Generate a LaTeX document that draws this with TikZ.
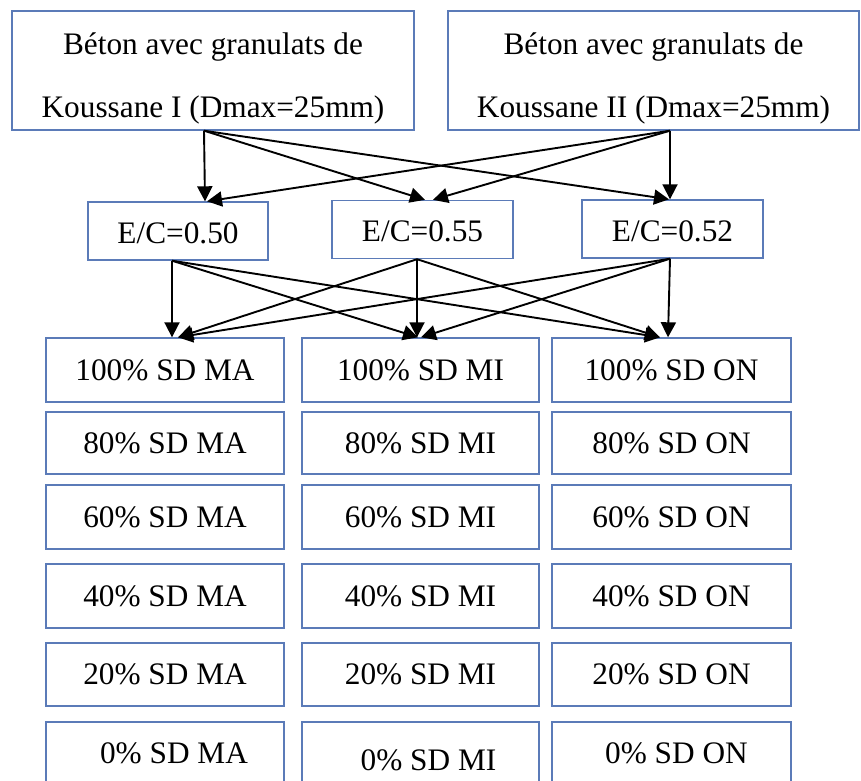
\documentclass[tikz,border=0pt]{standalone}
\usepackage{fontspec}
\setmainfont{Liberation Serif}
\usetikzlibrary{arrows.meta}
\definecolor{boxblue}{HTML}{5B7BB8}
\begin{document}
\begin{tikzpicture}[x=1pt,y=-1pt,
  font=\fontsize{31.3}{63}\selectfont,
  box/.style={draw=boxblue, line width=1.4pt, rectangle, inner sep=0pt, fill=white, text=black},
  topbox/.style={box, align=center, minimum height=119pt},
  midbox/.style={box, minimum width=181pt, minimum height=58pt, text height=30pt, text depth=6pt},
  cell/.style={box, minimum height=63pt, text height=26pt, text depth=6pt},
  arr/.style={draw=black, line width=1.9pt, -{Triangle[length=15pt,width=15pt]}}
]
\clip (0,0) rectangle (861,780);
% top boxes
\node[topbox, minimum width=402pt] (L) at (213,70.5) {\rule{0pt}{37pt}Béton avec granulats de\\Koussane I (Dmax=25mm)};
\node[topbox, minimum width=411pt] (R) at (653.5,70.5) {\rule{0pt}{37pt}Béton avec granulats de\\Koussane II (Dmax=25mm)};
% middle boxes
\node[midbox, minimum width=180pt] (M1) at (178,231) {E/C=0.50};
\node[midbox] (M2) at (422.5,229.5) {E/C=0.55};
\node[midbox] (M3) at (672.5,229) {E/C=0.52};
% grid
\foreach \r/\y/\h in {1/370/64, 2/443/62, 3/517/64, 4/596/64, 5/674.5/63}{
  \pgfmathtruncatemacro{\p}{120-20*\r}
  \node[cell, minimum width=238pt, minimum height=\h pt] (A\r) at (165,\y) {\p\% SD MA};
  \node[cell, minimum width=237pt, minimum height=\h pt] (B\r) at (420.5,\y) {\p\% SD MI};
  \node[cell, minimum width=239pt, minimum height=\h pt] (C\r) at (671.5,\y) {\p\% SD ON};
}
\node[cell, minimum width=238pt] (A6) at (165,753.5) {\hspace*{18pt}0\% SD MA};
\node[cell, minimum width=237pt] (B6) at (420.5,753.5) {\hspace*{16pt}\raisebox{-7pt}{0\% SD MI}};
\node[cell, minimum width=239pt] (C6) at (671.5,753.5) {\hspace*{10pt}0\% SD ON};
% arrows top -> middle
\draw[arr] ([xshift=-9pt]L.south) -- ([xshift=27pt]M1.north);
\draw[arr] ([xshift=-9pt]L.south) -- ([xshift=2.5pt]M2.north);
\draw[arr] ([xshift=-9pt]L.south) -- ([xshift=-3.5pt]M3.north);
\draw[arr] ([xshift=16.5pt]R.south) -- ([xshift=-2.5pt]M3.north);
\draw[arr] ([xshift=16.5pt]R.south) -- ([xshift=10.5pt]M2.north);
\draw[arr] ([xshift=16.5pt]R.south) -- ([xshift=29pt]M1.north);
% arrows middle -> grid
\draw[arr] ([xshift=-6pt]M1.south) -- ([xshift=7pt]A1.north);
\draw[arr] ([xshift=-6pt]M1.south) -- ([xshift=-2.5pt]B1.north);
\draw[arr] ([xshift=-6pt]M1.south) -- ([xshift=-11.5pt]C1.north);
\draw[arr] ([xshift=-5.5pt]M2.south) -- ([xshift=13pt]A1.north);
\draw[arr] ([xshift=-5.5pt]M2.south) -- ([xshift=-3.5pt]B1.north);
\draw[arr] ([xshift=-5.5pt]M2.south) -- ([xshift=-11.5pt]C1.north);
\draw[arr] ([xshift=-2.5pt]M3.south) -- ([xshift=13pt]A1.north);
\draw[arr] ([xshift=-2.5pt]M3.south) -- ([xshift=0.5pt]B1.north);
\draw[arr] ([xshift=-2.5pt]M3.south) -- ([xshift=-3.5pt]C1.north);
\end{tikzpicture}
\end{document}
